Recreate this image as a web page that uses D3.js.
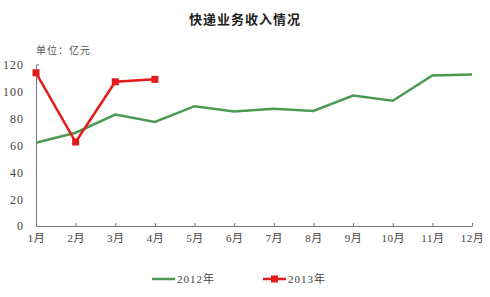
<!DOCTYPE html>
<html>
<head>
<meta charset="utf-8">
<script src="https://d3js.org/d3.v7.min.js"></script>
<style>
  html, body { margin: 0; padding: 0; background: #fff; }
  svg { display: block; }
  text { font-family: "Liberation Serif", "Noto Sans CJK SC", serif; fill: #333; }
</style>
</head>
<body>
<div id="chart"></div>
<script>
var months = ["1月","2月","3月","4月","5月","6月","7月","8月","9月","10月","11月","12月"];
var values2012 = [62, 69.5, 83, 77.5, 89.3, 85.3, 87.3, 85.8, 97.2, 93.3, 112.2, 112.9];
var values2013 = [114.2, 62.6, 107.5, 109.3];
var yTicks = [0, 20, 40, 60, 80, 100, 120];

var width = 490, height = 297;
var svg = d3.select("#chart").append("svg")
    .attr("width", width).attr("height", height);

var x = d3.scalePoint().domain(months).range([36, 472]);
var y = d3.scaleLinear().domain([0, 120]).range([226, 65]);

// title
svg.append("text")
    .attr("x", 245).attr("y", 24)
    .attr("text-anchor", "middle")
    .style("font-family", "'Noto Sans CJK SC', sans-serif")
    .style("font-weight", "bold")
    .style("font-size", "13px")
    .style("letter-spacing", "1px")
    .style("fill", "#222")
    .text("快递业务收入情况");

svg.append("text")
    .attr("x", 36).attr("y", 54)
    .style("font-family", "'Noto Sans CJK SC', sans-serif")
    .style("font-size", "10px")
    .style("letter-spacing", "1px")
    .style("fill", "#555")
    .text("单位：亿元");

// y axis
var yAxis = svg.append("g").attr("transform", "translate(36,0)")
    .call(d3.axisLeft(y).tickValues(yTicks).tickSize(0).tickPadding(12));
yAxis.select(".domain").attr("stroke", "#777");
yAxis.selectAll("text").style("font-size", "12px").style("fill", "#444")
    .style("letter-spacing", "1px")
    .style("font-family", "'Liberation Serif', serif");
yAxis.append("line").attr("x1", 0).attr("x2", 3).attr("y1", y(120)).attr("y2", y(120)).attr("stroke", "#777");

// x axis
var xAxis = svg.append("g").attr("transform", "translate(0,226)")
    .call(d3.axisBottom(x).tickSizeInner(-3).tickSizeOuter(0).tickPadding(8));
xAxis.select(".domain").attr("stroke", "#777");
xAxis.selectAll(".tick line").attr("stroke", "#777");
xAxis.selectAll("text").style("font-size", "11px").style("fill", "#444")
    .style("letter-spacing", "0.5px")
    .style("font-family", "'Liberation Serif', 'Noto Sans CJK SC', serif");

var line = d3.line()
    .x(function(d, i) { return x(months[i]); })
    .y(function(d) { return y(d); });

svg.append("path").datum(values2012)
    .attr("d", line).attr("fill", "none")
    .attr("stroke", "#4c9a52").attr("stroke-width", 2.5);

svg.append("path").datum(values2013)
    .attr("d", line).attr("fill", "none")
    .attr("stroke", "#e21b1b").attr("stroke-width", 2.5);

svg.selectAll(".m13").data(values2013).enter().append("rect")
    .attr("x", function(d, i) { return x(months[i]) - 3.5; })
    .attr("y", function(d) { return y(d) - 3.5; })
    .attr("width", 7).attr("height", 7)
    .attr("fill", "#e21b1b");

// legend
var lg = svg.append("g");
lg.append("line").attr("x1", 152).attr("x2", 175).attr("y1", 279).attr("y2", 279)
    .attr("stroke", "#4c9a52").attr("stroke-width", 2.5);
lg.append("text").attr("x", 177).attr("y", 283).style("font-size", "11px").style("fill", "#444")
    .style("letter-spacing", "1px")
    .text("2012年");
lg.append("line").attr("x1", 263).attr("x2", 286).attr("y1", 279).attr("y2", 279)
    .attr("stroke", "#e21b1b").attr("stroke-width", 2.5);
lg.append("rect").attr("x", 271).attr("y", 275.5).attr("width", 7).attr("height", 7).attr("fill", "#e21b1b");
lg.append("text").attr("x", 288).attr("y", 283).style("font-size", "11px").style("fill", "#444")
    .style("letter-spacing", "1px")
    .text("2013年");
</script>
</body>
</html>
